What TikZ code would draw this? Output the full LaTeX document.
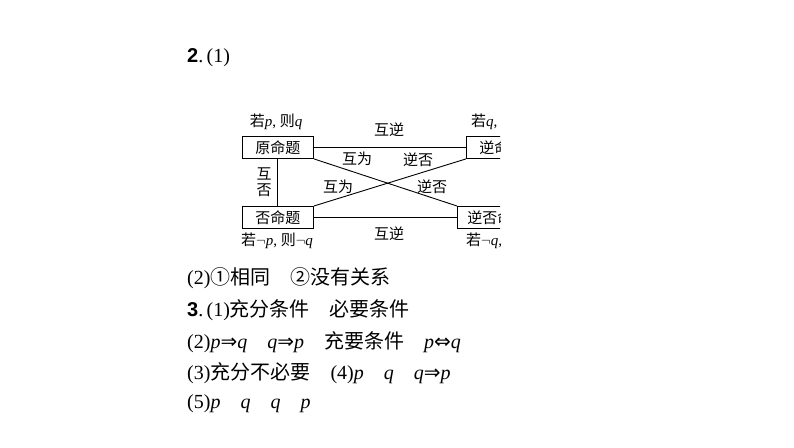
\documentclass[tikz,border=0pt]{standalone}
\usepackage{fontspec}
\setmainfont{Liberation Serif}
\newfontfamily\cjk{Noto Sans CJK SC}
\newfontfamily\boldsans{Liberation Sans}
\newfontfamily\arrfont{DejaVu Sans}
\newcommand{\vi}[1]{\textit{#1}}
\newcommand{\rarr}{{\arrfont ⇒}}
\newcommand{\lrarr}{{\arrfont ⇔}}
\begin{document}
\begin{tikzpicture}[x=1pt,y=-1pt,
  box/.style={draw,line width=0.9pt,minimum height=22pt,inner sep=0pt,anchor=north west,font=\fontsize{15}{15}\selectfont\cjk},
  lab/.style={font=\fontsize{15}{15}\selectfont, inner sep=0pt},
  ln/.style={line width=0.9pt},
  row/.style={anchor=west,font=\fontsize{20}{20}\selectfont,inner sep=0pt}]
\useasboundingbox (0,0) rectangle (794,447);
\node[row] (t1) at (187,58) {{\boldsans\bfseries 2}.\,(1)};
\begin{scope}
\clip (200,100) rectangle (500,260);
\node[box,minimum width=71pt] (a) at (242,136) {原命题};
\node[box,minimum width=71pt] (b) at (466,136) {逆命题};
\node[box,minimum width=71pt] (c) at (242,206) {否命题};
\node[box,minimum width=80pt] (d) at (457,206) {逆否命题};
\draw[ln] (a.east) -- (b.west);
\draw[ln] (c.east) -- (d.west);
\draw[ln] (a.south east) -- (d.north west);
\draw[ln] (c.north east) -- (b.south west);
\draw[ln] (a.south -| 277,0) -- (c.north -| 277,0);
\node[lab] (la) at (276,122) {{\cjk 若}\vi{p}, {\cjk 则}\vi{q}};
\node[lab,anchor=west] (lb) at (471,122) {{\cjk 若}\vi{q}, {\cjk 则}\vi{p}};
\node[lab] (lc) at (277,241) {{\cjk 若}$\neg$\vi{p}, {\cjk 则}$\neg$\vi{q}};
\node[lab,anchor=west] (ld) at (466,241) {{\cjk 若}$\neg$\vi{q}, {\cjk 则}$\neg$\vi{p}};
\node[lab] (m1) at (389,130) {\cjk 互逆};
\node[lab] (m2) at (389,234) {\cjk 互逆};
\node[lab,align=center] (m3) at (264,182) {\cjk 互\\[1pt]\cjk 否};
\node[lab] (m4) at (357,159) {\cjk 互为};
\node[lab] (m5) at (418,160) {\cjk 逆否};
\node[lab] (m6) at (338,187) {\cjk 互为};
\node[lab] (m7) at (432,187) {\cjk 逆否};
\end{scope}
\node[row] (t2) at (187,278) {(2){\cjk ①相同\quad ②没有关系}};
\node[row] (t3) at (187,310) {{\boldsans\bfseries 3}.\,(1){\cjk 充分条件\quad 必要条件}};
\node[row] (t4) at (187,342) {(2)\vi{p}\rarr\vi{q}\quad \vi{q}\rarr\vi{p}\quad {\cjk 充要条件}\quad \vi{p}\lrarr\vi{q}};
\node[row] (t5) at (187,373) {(3){\cjk 充分不必要}\quad (4)\vi{p}\quad \vi{q}\quad \vi{q}\rarr\vi{p}};
\node[row] (t6) at (187,404) {(5)\vi{p}\quad \vi{q}\quad \vi{q}\quad \vi{p}};
\end{tikzpicture}
\end{document}
